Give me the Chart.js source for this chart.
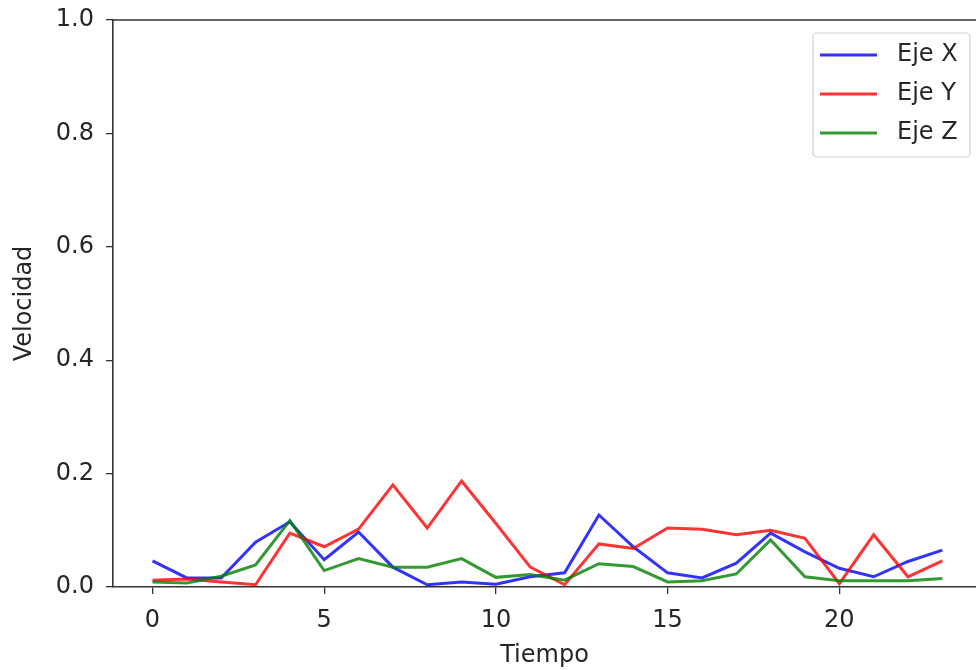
<!DOCTYPE html>
<html>
<head>
<meta charset="utf-8">
<script src="https://cdn.jsdelivr.net/npm/chart.js@4/dist/chart.umd.min.js"></script>
<style>
  html, body { margin: 0; padding: 0; background: #fff; }
  #grafico { display: block; }
</style>
</head>
<body>
<canvas id="grafico" width="976" height="670"></canvas>
<script>
// Datos
const tiempo = [0, 1, 2, 3, 4, 5, 6, 7, 8, 9, 10, 11, 12, 13, 14, 15, 16, 17, 18, 19, 20, 21, 22, 23];
const ejeX = [0.046, 0.016, 0.016, 0.079, 0.115, 0.048, 0.097, 0.035, 0.004, 0.009, 0.005, 0.018,
              0.025, 0.127, 0.071, 0.025, 0.016, 0.042, 0.095, 0.062, 0.033, 0.018, 0.045, 0.065];
const ejeY = [0.012, 0.014, 0.009, 0.004, 0.095, 0.071, 0.102, 0.180, 0.104, 0.187, 0.112, 0.035,
              0.004, 0.076, 0.068, 0.104, 0.102, 0.092, 0.100, 0.086, 0.006, 0.092, 0.018, 0.046];
const ejeZ = [0.009, 0.007, 0.019, 0.039, 0.117, 0.029, 0.050, 0.035, 0.035, 0.050, 0.017, 0.022,
              0.012, 0.041, 0.036, 0.009, 0.011, 0.023, 0.083, 0.018, 0.011, 0.011, 0.011, 0.015];
const etiquetas = ['Eje X', 'Eje Y', 'Eje Z'];
const ticksTiempo = [0, 5, 10, 15, 20];
const ticksVelocidad = [0, 0.2, 0.4, 0.6, 0.8, 1.0];

const FUENTE = { family: "'DejaVu Sans', sans-serif", size: 24 };
const TEXTO = '#262626';

function puntos(serie) {
    return tiempo.map((t, i) => ({ x: t, y: serie[i] }));
}

// Línea superior del marco (spine)
const marcoSuperior = {
    id: 'marcoSuperior',
    afterDraw(chart) {
        const { ctx, chartArea } = chart;
        ctx.save();
        ctx.strokeStyle = '#333';
        ctx.lineWidth = 1.6;
        ctx.beginPath();
        ctx.moveTo(chartArea.left, chartArea.top);
        ctx.lineTo(chartArea.right, chartArea.top);
        ctx.stroke();
        ctx.restore();
    }
};

// Leyenda dentro del área, estilo matplotlib
const leyendaInterna = {
    id: 'leyendaInterna',
    afterDraw(chart) {
        const { ctx, chartArea } = chart;
        const ancho = 157, alto = 124, fila = 39;
        const x0 = chartArea.right - 6 - ancho;
        const y0 = chartArea.top + 13;
        ctx.save();
        ctx.fillStyle = 'rgba(255,255,255,0.8)';
        ctx.strokeStyle = '#d0d0d0';
        ctx.lineWidth = 1.2;
        ctx.beginPath();
        ctx.roundRect(x0, y0, ancho, alto, 4);
        ctx.fill();
        ctx.stroke();
        ctx.font = `${FUENTE.size}px ${FUENTE.family}`;
        ctx.textBaseline = 'middle';
        ctx.textAlign = 'left';
        chart.data.datasets.forEach((ds, i) => {
            const y = y0 + 22 + i * fila;
            ctx.strokeStyle = ds.borderColor;
            ctx.lineWidth = ds.borderWidth;
            ctx.beginPath();
            ctx.moveTo(x0 + 7, y);
            ctx.lineTo(x0 + 64, y);
            ctx.stroke();
            ctx.fillStyle = TEXTO;
            ctx.fillText(ds.label, x0 + 84, y);
        });
        ctx.restore();
    }
};

const ctx = document.getElementById('grafico').getContext('2d');

new Chart(ctx, {
    type: 'line',
    data: {
        datasets: [
            { label: etiquetas[0], data: puntos(ejeX), borderColor: 'rgba(0,0,255,0.8)', order: 3 },
            { label: etiquetas[1], data: puntos(ejeY), borderColor: 'rgba(255,0,0,0.8)', order: 2 },
            { label: etiquetas[2], data: puntos(ejeZ), borderColor: 'rgba(0,128,0,0.8)', order: 1 }
        ].map(ds => Object.assign(ds, {
            borderWidth: 3,
            pointRadius: 0,
            tension: 0,
            fill: false
        }))
    },
    options: {
        responsive: false,
        animation: false,
        events: [],
        layout: { padding: { top: 20, right: 0, bottom: 0, left: 0 } },
        plugins: {
            legend: { display: false },
            tooltip: { enabled: false }
        },
        scales: {
            x: {
                type: 'linear',
                min: -1.15,
                max: 23.98,
                afterBuildTicks: axis => { axis.ticks = ticksTiempo.map(v => ({ value: v })); },
                afterFit: axis => {
                    axis.height = 83;
                    axis.paddingLeft = 0;
                    axis.paddingRight = 0;
                },
                grid: { drawOnChartArea: false, drawTicks: true, tickLength: 7, color: '#333', lineWidth: 1.3 },
                border: { display: true, color: '#333', width: 1.6 },
                ticks: { color: TEXTO, font: FUENTE, padding: 12, maxRotation: 0 },
                title: { display: true, text: 'Tiempo', color: TEXTO, font: FUENTE, padding: { top: 0, bottom: 0 } }
            },
            y: {
                type: 'linear',
                min: 0,
                max: 1,
                afterBuildTicks: axis => { axis.ticks = ticksVelocidad.map(v => ({ value: v })); },
                afterFit: axis => {
                    axis.width = 113;
                    axis.paddingTop = 0;
                    axis.paddingBottom = 0;
                },
                grid: { drawOnChartArea: false, drawTicks: true, tickLength: 7, color: '#333', lineWidth: 1.3 },
                border: { display: true, color: '#333', width: 1.6 },
                ticks: { color: TEXTO, font: FUENTE, padding: 12, callback: v => v.toFixed(1) },
                title: { display: true, text: 'Velocidad', color: TEXTO, font: FUENTE, padding: { top: 10, bottom: 0 } }
            }
        }
    },
    plugins: [marcoSuperior, leyendaInterna]
});
</script>
</body>
</html>
